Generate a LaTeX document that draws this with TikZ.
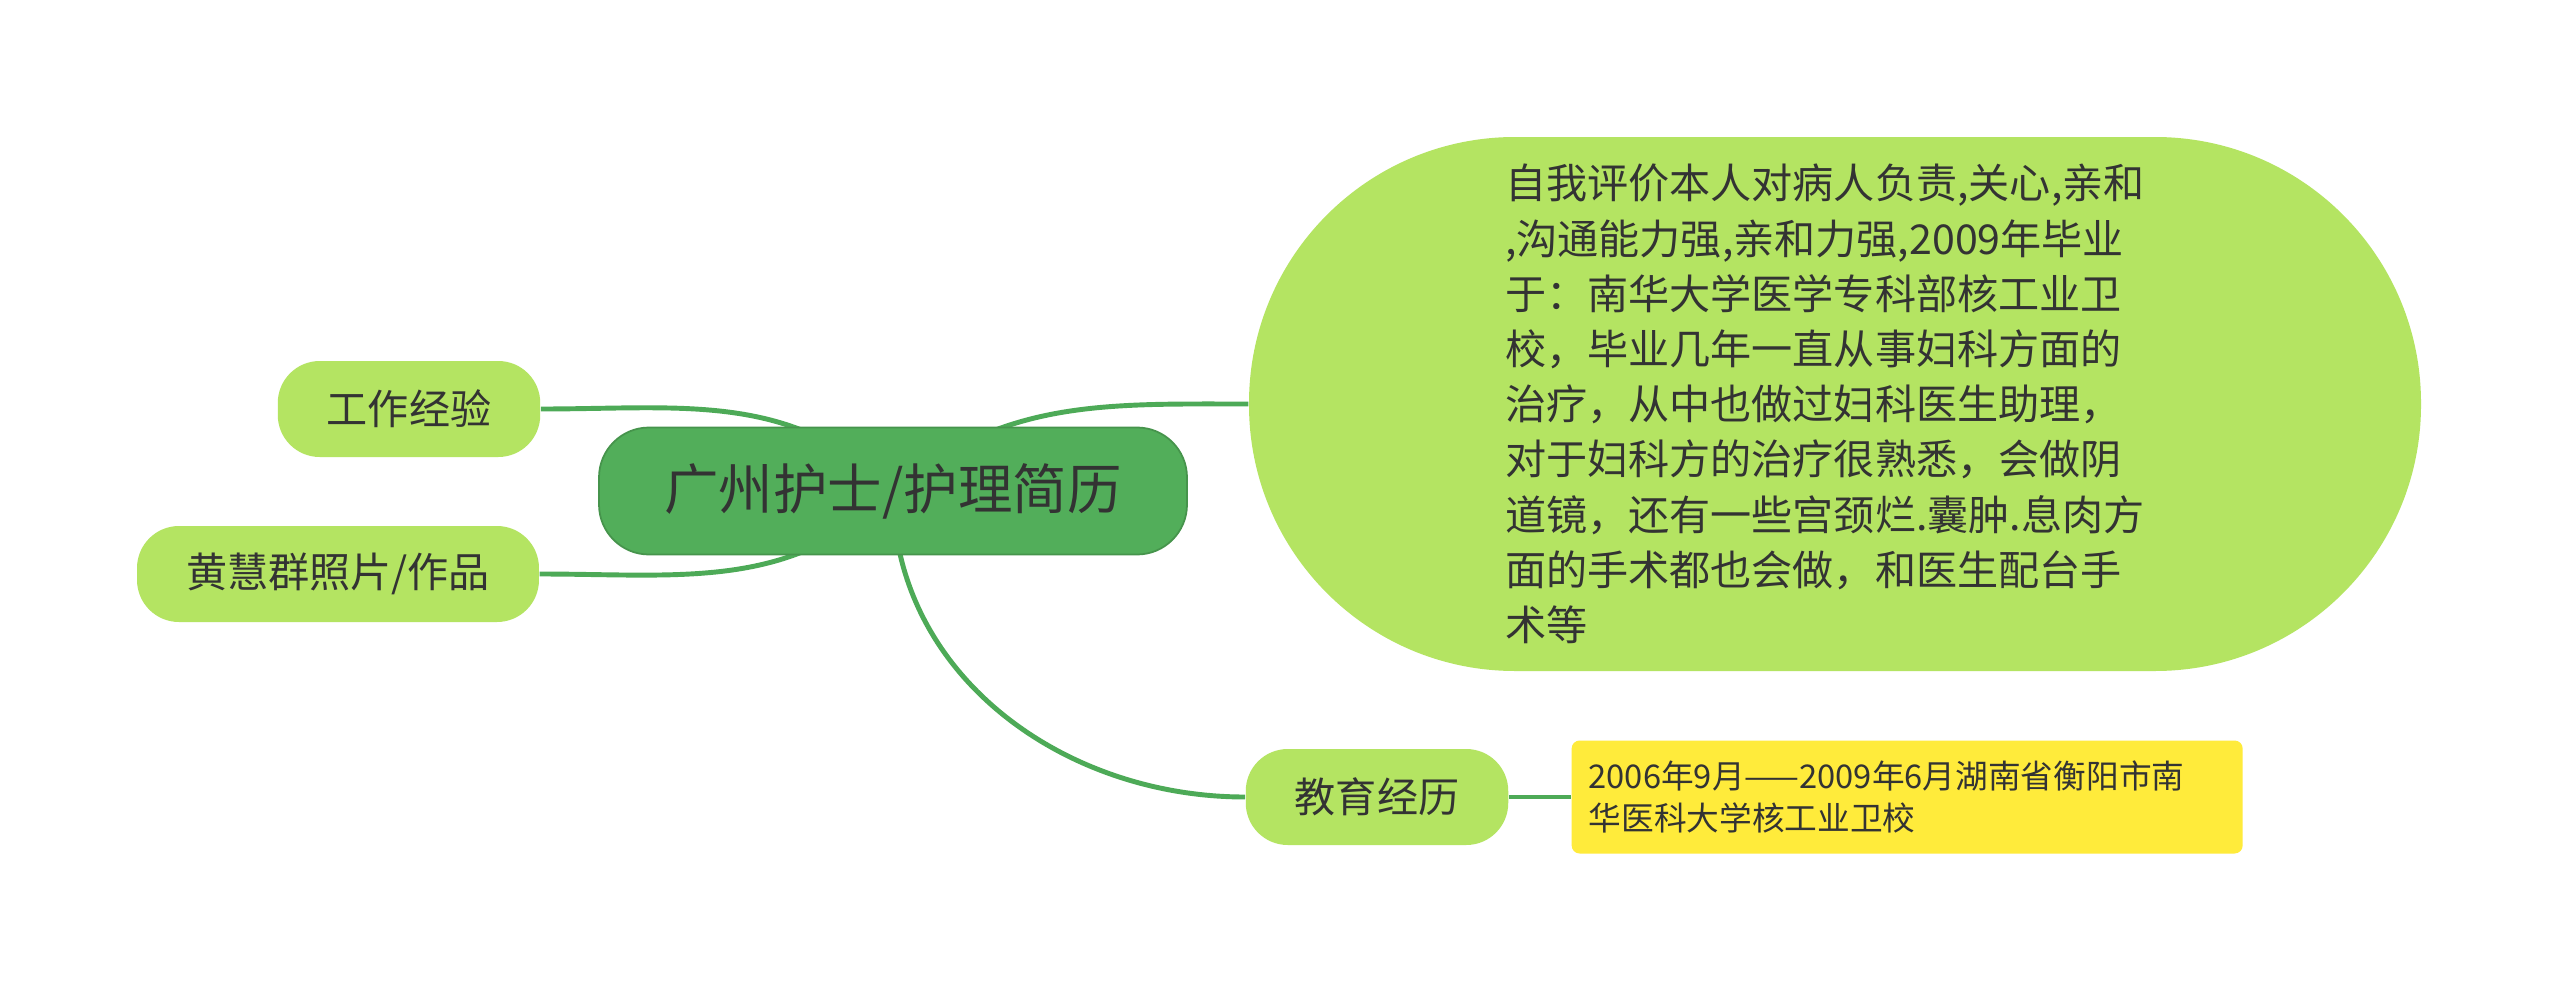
\documentclass[tikz,border=0pt]{standalone}
\usepackage{fontspec}
\setmainfont{Noto Sans CJK SC}
\usetikzlibrary{positioning,backgrounds}

\definecolor{rootgreen}{HTML}{52AE5A}
\definecolor{leafgreen}{HTML}{B4E462}
\definecolor{linkgreen}{HTML}{4DAA57}
\definecolor{notebg}{HTML}{FFEB3B}
\definecolor{inkgray}{HTML}{333333}

\begin{document}
\begin{tikzpicture}[
  root/.style={
    fill=rootgreen,
    draw=rootgreen!85!black,
    line width=0.5pt,
    rounded corners=0.5cm,
    minimum width=5.88cm,
    minimum height=1.27cm,
    text=inkgray,
    font=\fontsize{15.5}{18}\selectfont
  },
  topic/.style={
    fill=leafgreen,
    rounded corners=0.42cm,
    minimum height=0.96cm,
    inner xsep=0.49cm,
    text=inkgray,
    font=\fontsize{11.7}{15.7}\selectfont
  },
  summary/.style={
    topic,
    rounded corners=2.66cm,
    minimum width=11.72cm,
    minimum height=5.34cm,
    text width=6.6cm,
    align=left
  },
  note/.style={
    fill=notebg,
    rounded corners=0.08cm,
    minimum height=1.13cm,
    inner xsep=0.17cm,
    text width=6.37cm,
    align=left,
    text=inkgray,
    font=\fontsize{9.3}{12}\selectfont
  },
  link/.style={linkgreen,line width=1.4pt}
]
\useasboundingbox (0,0) rectangle (25.6,9.92);

\node[root] (root) at (8.93,5.01) {广州护士/护理简历};
\node[topic] (work) at (4.09,5.83) {工作经验};
\node[topic] (photo) at (3.38,4.18) {黄慧群照片/作品};
\node[summary] (self) at (18.35,5.88) {自我评价本人对病人负责,关心,亲和\\
,沟通能力强,亲和力强,2009年毕业\\
于：南华大学医学专科部核工业卫\\
校，毕业几年一直从事妇科方面的\\
治疗，从中也做过妇科医生助理，\\
对于妇科方的治疗很熟悉，会做阴\\
道镜，还有一些宫颈烂.囊肿.息肉方\\
面的手术都也会做，和医生配台手\\
术等};
\node[topic] (edu) at (13.77,1.95) {教育经历};
\node[note,right=0.62cm of edu] (exp) {2006年9月——2009年6月湖南省衡阳市南\\华医科大学核工业卫校};

% branches sit behind the boxes
\begin{scope}[on background layer]
  \fill[white] (0,0) rectangle (25.6,9.92);
  \draw[link] (work.east) to[out=0,in=135] (root.center);
  \draw[link] (photo.east) to[out=0,in=225] (root.center);
  \draw[link] (root.center) to[out=40,in=180] (self.west);
  \draw[link] (root.center) to[out=-90,in=180] (edu.west);
\end{scope}
\draw[link] (edu) -- (exp);
\end{tikzpicture}
\end{document}
